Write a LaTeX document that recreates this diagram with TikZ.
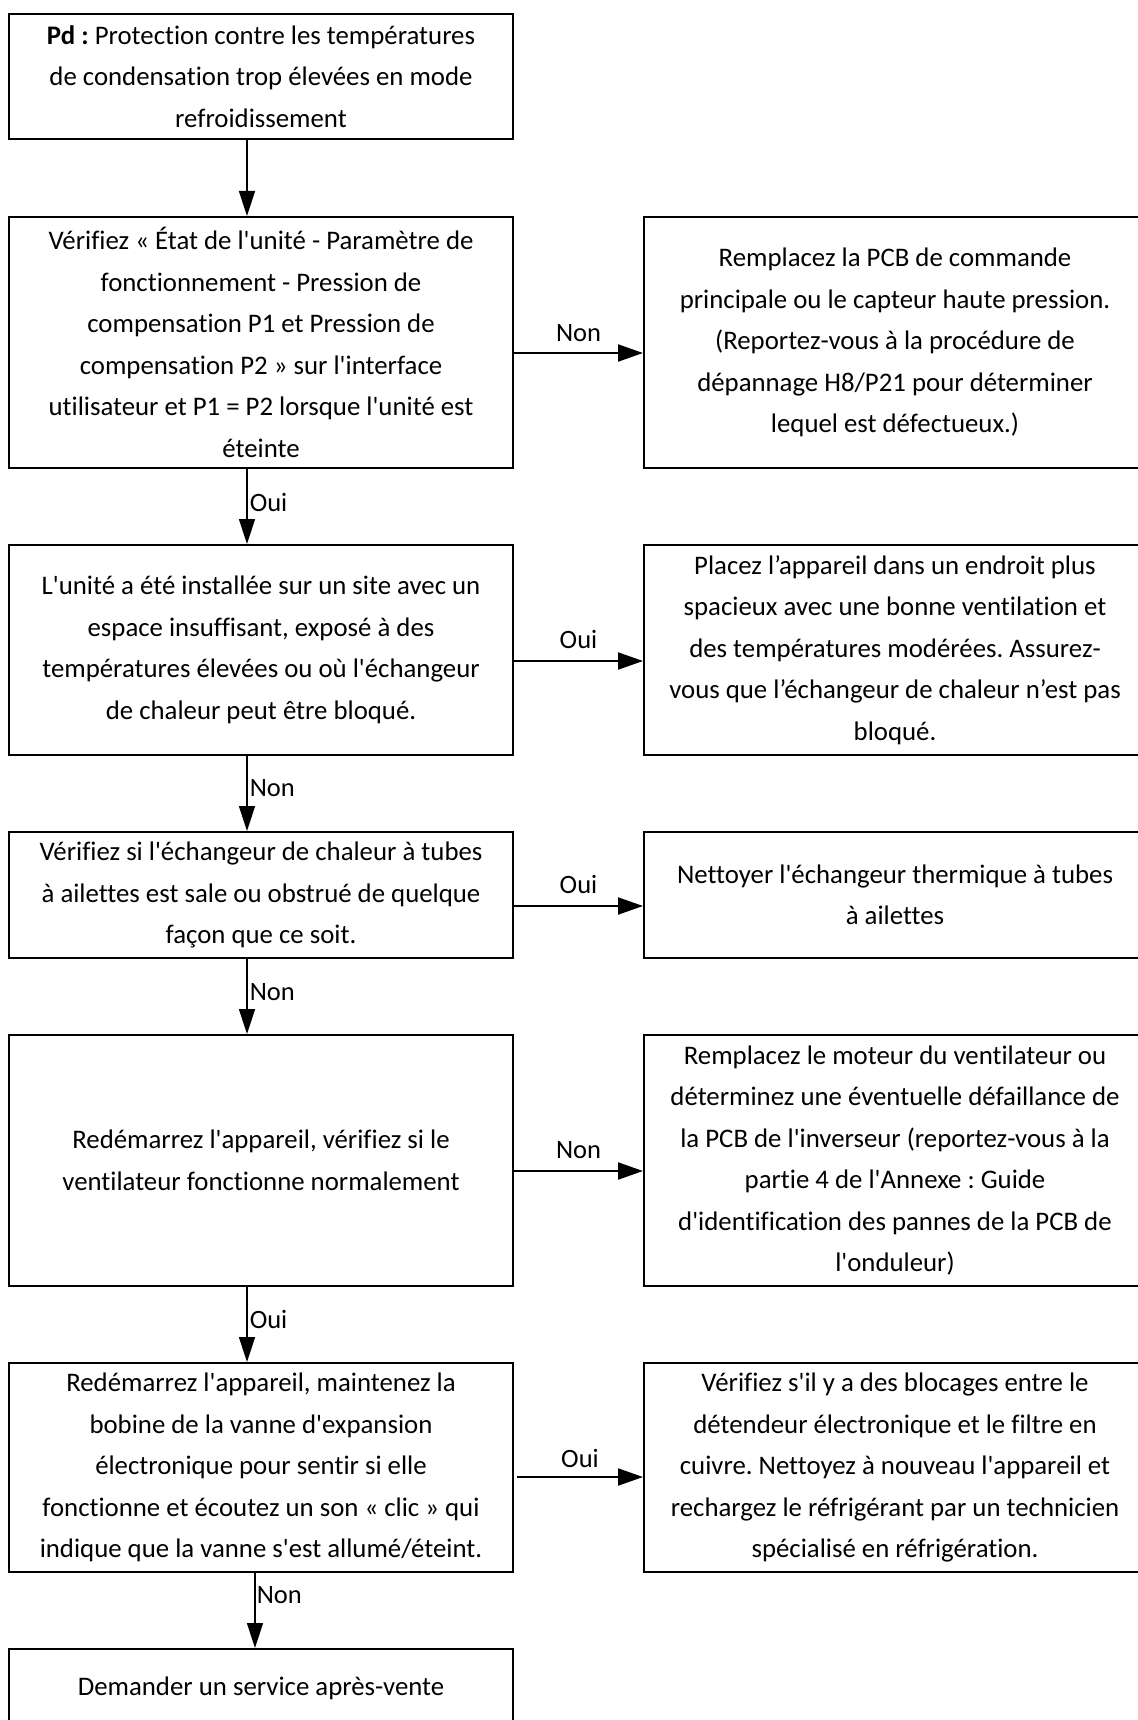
\documentclass[tikz,border=0pt]{standalone}
\usepackage{fontspec}
\setmainfont{Carlito}[Ligatures={TeXOff,NoCommon}]
\usetikzlibrary{arrows.meta}
\frenchspacing
\begin{document}
\begin{tikzpicture}[x=1pt,y=-1pt,
  box/.style={draw, line width=2pt, align=center, inner sep=0pt,
    font=\fontsize{26.8}{41.5}\selectfont},
  lbox/.style={box, minimum width=504pt},
  rbox/.style={box, minimum width=502pt},
  arr/.style={line width=1.5pt, -{Triangle[length=25pt,width=16pt]}},
  harr/.style={arr, line width=2pt, -{Triangle[length=25pt,width=17pt]}},
  lab/.style={font=\fontsize{26.5}{28}\selectfont, inner sep=0pt}]
\useasboundingbox (0,0) rectangle (1137,1720);

% x positions of the vertical flow line
\coordinate (ax) at (247,0);
\coordinate (ay) at (255,0);

% left column
\node[lbox, minimum height=125pt] (b1) at (261,76.5)
  {\textbf{Pd :} Protection contre les températures\\de condensation trop élevées en mode\\refroidissement};
\node[lbox, minimum height=251pt] (b2) at (261,342.5)
  {Vérifiez « État de l'unité - Paramètre de\\fonctionnement - Pression de\\compensation P1 et Pression de\\compensation P2 » sur l'interface\\utilisateur et P1 = P2 lorsque l'unité est\\éteinte};
\node[lbox, minimum height=210pt] (b3) at (261,650)
  {L'unité a été installée sur un site avec un\\espace insuffisant, exposé à des\\températures élevées ou où l'échangeur\\de chaleur peut être bloqué.};
\node[lbox, minimum height=126pt] (b4) at (261,895)
  {Vérifiez si l'échangeur de chaleur à tubes\\à ailettes est sale ou obstrué de quelque\\façon que ce soit.};
\node[lbox, minimum height=251pt] (b5) at (261,1160.5)
  {Redémarrez l'appareil, vérifiez si le\\ventilateur fonctionne normalement};
\node[lbox, minimum height=209pt] (b6) at (261,1467.5)
  {Redémarrez l'appareil, maintenez la\\bobine de la vanne d'expansion\\électronique pour sentir si elle\\fonctionne et écoutez un son « clic » qui\\indique que la vanne s'est allumé/éteint.};
\node[lbox, minimum height=78pt] (b7) at (261,1688)
  {Demander un service après-vente};

% right column
\node[rbox, minimum height=251pt] (r2) at (895,342.5)
  {Remplacez la PCB de commande\\principale ou le capteur haute pression.\\(Reportez-vous à la procédure de\\dépannage H8/P21 pour déterminer\\lequel est défectueux.)};
\node[rbox, minimum height=210pt] (r3) at (895,650)
  {Placez l’appareil dans un endroit plus\\spacieux avec une bonne ventilation et\\des températures modérées. Assurez-\\vous que l’échangeur de chaleur n’est pas\\bloqué.};
\node[rbox, minimum height=126pt] (r4) at (895,895)
  {Nettoyer l'échangeur thermique à tubes\\à ailettes};
\node[rbox, minimum height=251pt] (r5) at (895,1160.5)
  {Remplacez le moteur du ventilateur ou\\déterminez une éventuelle défaillance de\\la PCB de l'inverseur (reportez-vous à la\\partie 4 de l'Annexe : Guide\\d'identification des pannes de la PCB de\\l'onduleur)};
\node[rbox, minimum height=209pt] (r6) at (895,1467.5)
  {Vérifiez s'il y a des blocages entre le\\détendeur électronique et le filtre en\\cuivre. Nettoyez à nouveau l'appareil et\\rechargez le réfrigérant par un technicien\\spécialisé en réfrigération.};

% vertical connectors
\draw[arr] (b1.south -| ax) -- (b2.north -| ax);
\draw[arr] (b2.south -| ax) -- node[lab, pos=0.44, anchor=west, xshift=2pt]{Oui} (b3.north -| ax);
\draw[arr] (b3.south -| ax) -- node[lab, pos=0.43, anchor=west, xshift=2pt]{Non} (b4.north -| ax);
\draw[arr] (b4.south -| ax) -- node[lab, pos=0.44, anchor=west, xshift=2pt]{Non} (b5.north -| ax);
\draw[arr] (b5.south -| ax) -- node[lab, pos=0.43, anchor=west, xshift=2pt]{Oui} (b6.north -| ax);
\draw[arr] (b6.south -| ay) -- node[lab, pos=0.3, anchor=west, xshift=1pt]{Non} (b7.north -| ay);

% horizontal connectors
\draw[harr] ([yshift=-10.5pt]b2.east) -- node[lab, above=10pt]{Non} ([yshift=-10.5pt]b2.east -| r2.west);
\draw[harr] ([yshift=-11pt]b3.east) -- node[lab, above=11pt]{Oui} ([yshift=-11pt]b3.east -| r3.west);
\draw[harr] ([yshift=-11pt]b4.east) -- node[lab, above=11pt]{Oui} ([yshift=-11pt]b4.east -| r4.west);
\draw[harr] ([yshift=-10.5pt]b5.east) -- node[lab, above=11pt]{Non} ([yshift=-10.5pt]b5.east -| r5.west);
\draw[harr] ([xshift=3pt,yshift=-9.5pt]b6.east) -- node[lab, above=8pt]{Oui} ([yshift=-9.5pt]b6.east -| r6.west);
\end{tikzpicture}
\end{document}
